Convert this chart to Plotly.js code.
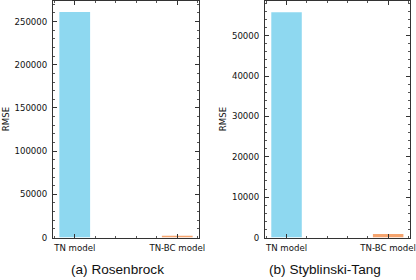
<!DOCTYPE html>
<html>
<head>
<meta charset="utf-8">
<script src="https://cdn.plot.ly/plotly-3.0.1.min.js"></script>
<style>html,body{margin:0;padding:0;background:#fff;}#chart{width:416px;height:280px;}</style>
</head>
<body>
<div id="chart"></div>
<script>
const categories = ["TN model", "TN-BC model"];
const rosenbrockRMSE = [261000, 2000];
const styblinskiRMSE = [55800, 850];
const captions = ["(a) Rosenbrock", "(b) Styblinski-Tang"];
const barColors = ["#8ed8f0", "#f5a46e"];

const tickFont = {family: "DejaVu Sans", size: 8.6, color: "#111"};

function xAxis(domain) {
  return {
    domain: domain, type: "linear", range: [-0.212, 1.215],
    tickvals: [0, 1], ticktext: categories,
    ticks: "inside", ticklen: 4, tickcolor: "#333",
    minor: {dtick: 0.2, tick0: 0, ticks: "inside", ticklen: 2, tickcolor: "#555"},
    showline: true, linecolor: "#333", linewidth: 1, mirror: "allticks",
    showgrid: false, zeroline: false, tickfont: tickFont, fixedrange: true,
    ticklabelstandoff: 2, ticklabeloverflow: "allow"
  };
}
function yAxis(domain, range, dtick, anchor) {
  return {
    domain: domain, range: range, dtick: dtick, tick0: 0,
    tickformat: "d",
    ticks: "inside", ticklen: 4, tickcolor: "#333",
    minor: {dtick: dtick / 5, ticks: "inside", ticklen: 2, tickcolor: "#555"},
    showline: true, linecolor: "#333", linewidth: 1, mirror: "allticks",
    showgrid: false, zeroline: false, tickfont: tickFont,
    ticklabelstandoff: 3, ticklabeloverflow: "allow",
    title: {text: "RMSE", font: {family: "DejaVu Sans", size: 8.6, color: "#111"}, standoff: 3},
    anchor: anchor, fixedrange: true
  };
}

const idx = categories.map((c, i) => i);
const data = [
  {type: "bar", x: idx, y: rosenbrockRMSE, width: 0.3, marker: {color: barColors}, xaxis: "x", yaxis: "y", showlegend: false},
  {type: "bar", x: idx, y: styblinskiRMSE, width: 0.3, marker: {color: barColors}, xaxis: "x2", yaxis: "y2", showlegend: false}
];

const yDom = [1 - 237.5 / 280, 1 - 0.5 / 280];
const layout = {
  width: 416, height: 280,
  margin: {l: 0, r: 0, t: 0, b: 0},
  paper_bgcolor: "#fff", plot_bgcolor: "#fff",
  xaxis: Object.assign(xAxis([53 / 416, 199.3 / 416]), {anchor: "y"}),
  yaxis: yAxis(yDom, [0, 274400], 50000, "x"),
  xaxis2: Object.assign(xAxis([265 / 416, 410 / 416]), {anchor: "y2"}),
  yaxis2: yAxis(yDom, [0, 58700], 10000, "x2"),
  annotations: [
    {text: captions[0], xref: "paper", yref: "paper", x: 117 / 416, y: 1 - 269 / 280, xanchor: "center", yanchor: "middle", showarrow: false, font: {family: "Liberation Sans", size: 13.6, color: "#111"}},
    {text: captions[1], xref: "paper", yref: "paper", x: 325 / 416, y: 1 - 269 / 280, xanchor: "center", yanchor: "middle", showarrow: false, font: {family: "Liberation Sans", size: 13.6, color: "#111"}}
  ]
};

Plotly.newPlot("chart", data, layout, {displayModeBar: false, staticPlot: true});
</script>
</body>
</html>
